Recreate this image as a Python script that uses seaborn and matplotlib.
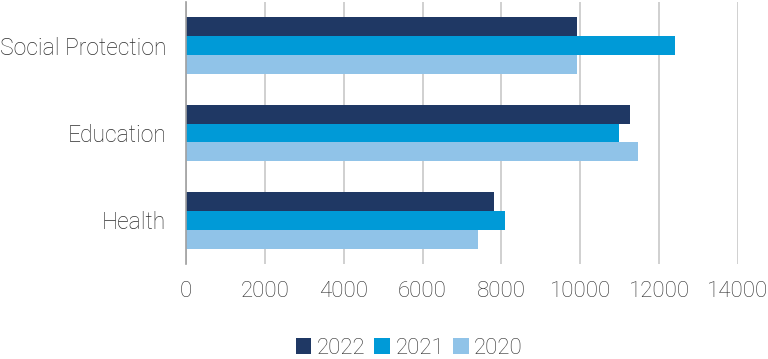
import matplotlib.pyplot as plt
import pandas as pd
import seaborn as sns

categories = ['Social Protection', 'Education', 'Health']
years = ['2022', '2021', '2020']
values_2022 = [9910, 11260, 7820]
values_2021 = [12410, 10990, 8090]
values_2020 = [9910, 11460, 7410]
x_ticks = [0, 2000, 4000, 6000, 8000, 10000, 12000, 14000]

colors = ['#1f3864', '#009ad7', '#90c3e8']

df = pd.DataFrame({
    'category': categories * 3,
    'year': [y for y in years for _ in categories],
    'value': values_2022 + values_2021 + values_2020,
})

sns.set_style('white')
plt.rcParams['font.family'] = ['Roboto', 'DejaVu Sans']
text_color = '#2e2e2e'

fig = plt.figure(figsize=(7.68, 3.59), dpi=100)
ax = fig.add_axes([0.242, 0.265, 0.719, 0.729])

sns.barplot(data=df, y='category', x='value', hue='year', order=categories,
            hue_order=years, palette=colors, orient='h', width=0.65,
            ax=ax, saturation=1, edgecolor='none')

ax.set_xlim(0, 14000)
ax.set_ylim(2.5, -0.5)
ax.set_xticks(x_ticks)
ax.set_xticklabels([str(t) for t in x_ticks])
ax.grid(axis='x', color='#c8c8c8', linewidth=1.2)
ax.set_axisbelow(True)
for s in ['top', 'right', 'bottom']:
    ax.spines[s].set_visible(False)
ax.spines['left'].set_color('#a0a0a0')
ax.spines['left'].set_linewidth(1.2)
ax.tick_params(axis='x', length=0, pad=12, labelsize=16, labelcolor=text_color)
ax.tick_params(axis='y', length=0, pad=14, labelsize=16.5, labelcolor=text_color)
for lbl in ax.get_xticklabels() + ax.get_yticklabels():
    lbl.set_fontweight('light')
ax.set_xlabel('')
ax.set_ylabel('')

handles, labels = ax.get_legend_handles_labels()
ax.get_legend().remove()
leg = fig.legend(handles, labels, loc='center', bbox_to_anchor=(0.533, 0.03), ncol=3,
                 frameon=False, handlelength=0.7, handleheight=0.7, handletextpad=0.25,
                 columnspacing=0.4, borderpad=0.2, prop={'size': 16, 'weight': 'light'})
for t in leg.get_texts():
    t.set_color(text_color)

fig.savefig('out.png', dpi=100)
